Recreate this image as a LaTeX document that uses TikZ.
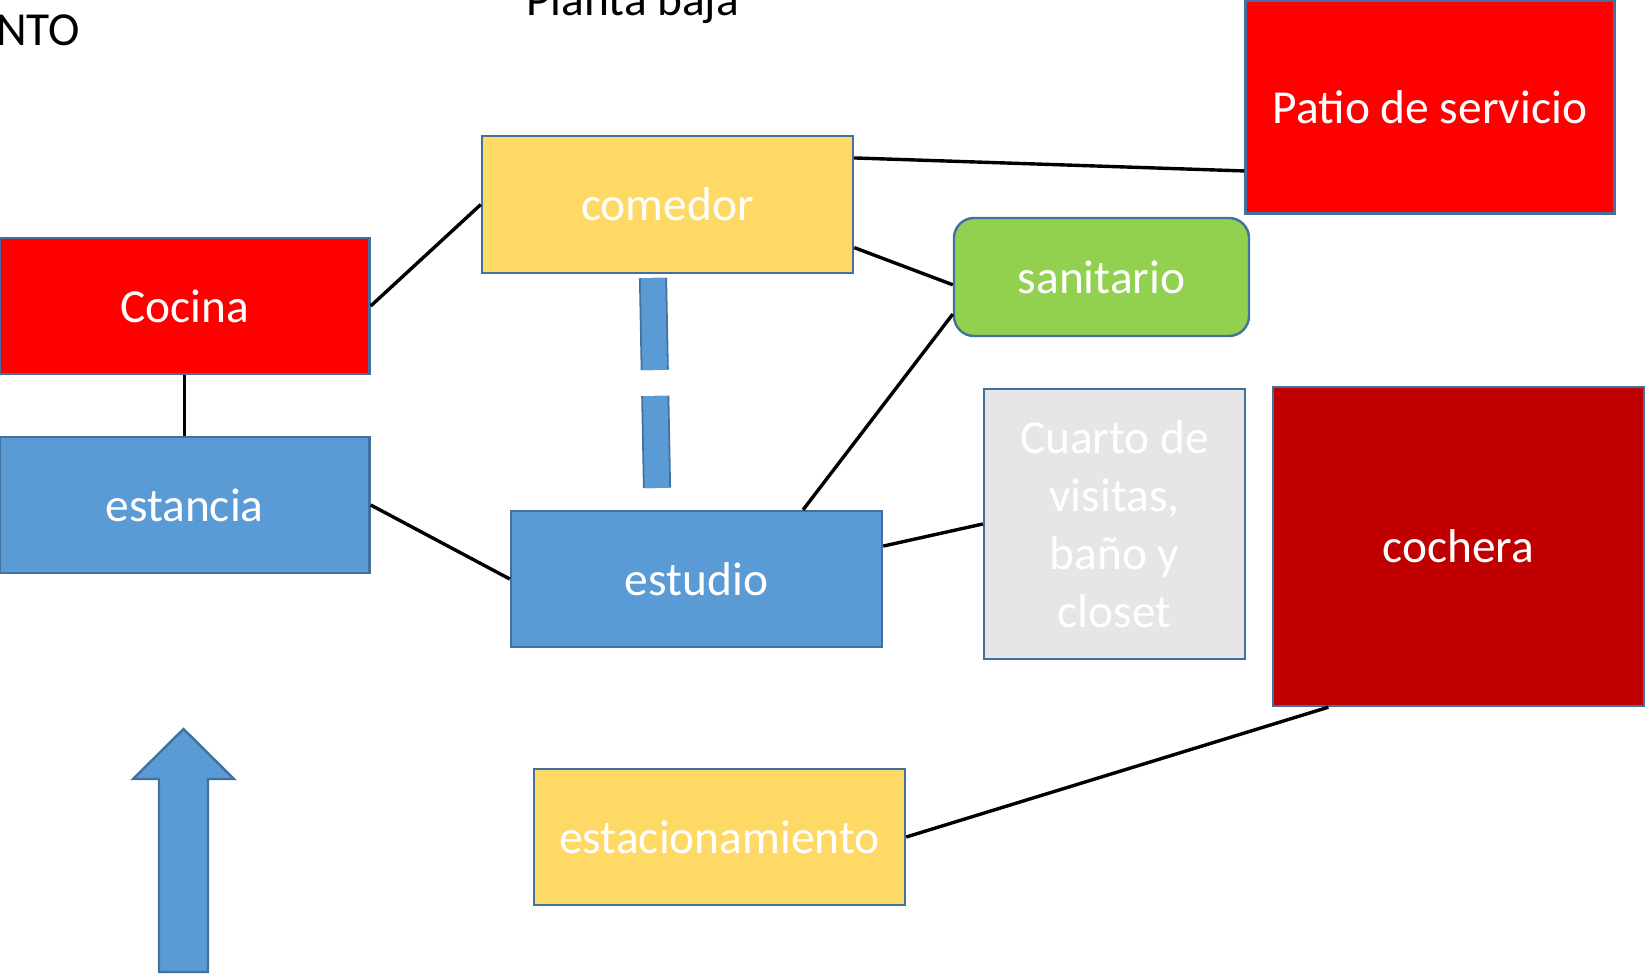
\documentclass[tikz,border=0pt]{standalone}
\usepackage{fontspec}
\setmainfont{Carlito}
\definecolor{roomline}{HTML}{41719C}
\definecolor{roomblue}{HTML}{5B9BD5}
\definecolor{roomyellow}{HTML}{FFD966}
\definecolor{roomgreen}{HTML}{92D050}
\definecolor{roomgray}{HTML}{E7E6E6}
\definecolor{roomdarkred}{HTML}{C00000}
\newcommand{\roomfont}{\fontsize{47.4}{58}\selectfont}
\tikzset{
	room/.style={draw=roomline, line width=2.4pt, text=white, font=\roomfont, inner sep=0pt, align=center, rectangle},
	link/.style={draw=black, line width=3.4pt},
	dashlink/.style={draw=roomline, line width=1.8pt, double=roomblue, double distance=24.5pt, dash pattern=on 92pt off 26pt},
	label/.style={black, font=\roomfont, inner sep=0pt, anchor=base west}
}
\begin{document}
\begin{tikzpicture}[x=1pt, y=-1pt]
		\useasboundingbox (0.00,0.00) rectangle (1646.00,976.00);
		\node[label] (nto) at (-4.00,46.00) {NTO};
		\node[label] (planta) at (526.00,16.00) {Planta baja};
		\node[room, fill=red, minimum width=370, minimum height=136] (cocina) at (184.50,306.00) {Cocina};
		\node[room, fill=roomblue, minimum width=370, minimum height=136] (estancia) at (184.50,505.00) {estancia};
		\node[room, fill=roomyellow, minimum width=371, minimum height=137] (comedor) at (667.50,204.50) {comedor};
		\node[room, fill=roomblue, minimum width=371, minimum height=136] (estudio) at (696.50,579.00) {estudio};
		\node[room, fill=roomgreen, rounded corners=20pt, minimum width=295, minimum height=118] (sanitario) at (1101.50,277.00) {sanitario};
		\node[room, fill=roomgray, minimum width=261, minimum height=270] (cuarto) at (1114.50,524.00) {Cuarto de\\visitas,\\baño y\\closet};
		\node[room, fill=roomdarkred, minimum width=371, minimum height=319] (cochera) at (1458.50,546.50) {cochera};
		\node[room, fill=red, minimum width=369, minimum height=213] (patio) at (1430.00,107.00) {Patio de servicio};
		\node[room, fill=roomyellow, minimum width=371, minimum height=136] (estacionamiento) at (719.50,837.00) {estacionamiento};
		\coordinate (dashtop) at (653.00,278.00);
		\coordinate (dashbot) at (657.00,488.00);
		\draw[link] (cocina.east) -- (comedor.west);
		\draw[link] (cocina.south) -- (estancia.north);
		\draw[link] (estancia.east) -- (estudio.west);
		\draw[link] (comedor.14.7) -- (patio.199);
		\draw[link] (comedor.-13.8) -- (sanitario.183);
		\draw[link] (sanitario.194.4) -- (estudio.33);
		\draw[link] (estudio.10) -- (cuarto.west);
		\draw[link] (estacionamiento.east) -- (cochera.231.8);
		\draw[dashlink] (dashtop) -- (dashbot);
		\draw[draw=roomline, fill=roomblue, line width=2.4pt] (159.00,972.00) -- (159.00,779.00) -- (133.00,779.00) -- (183.50,729.00) -- (234.00,779.00) -- (208.00,779.00) -- (208.00,972.00) -- cycle;
	\end{tikzpicture}
\end{document}
